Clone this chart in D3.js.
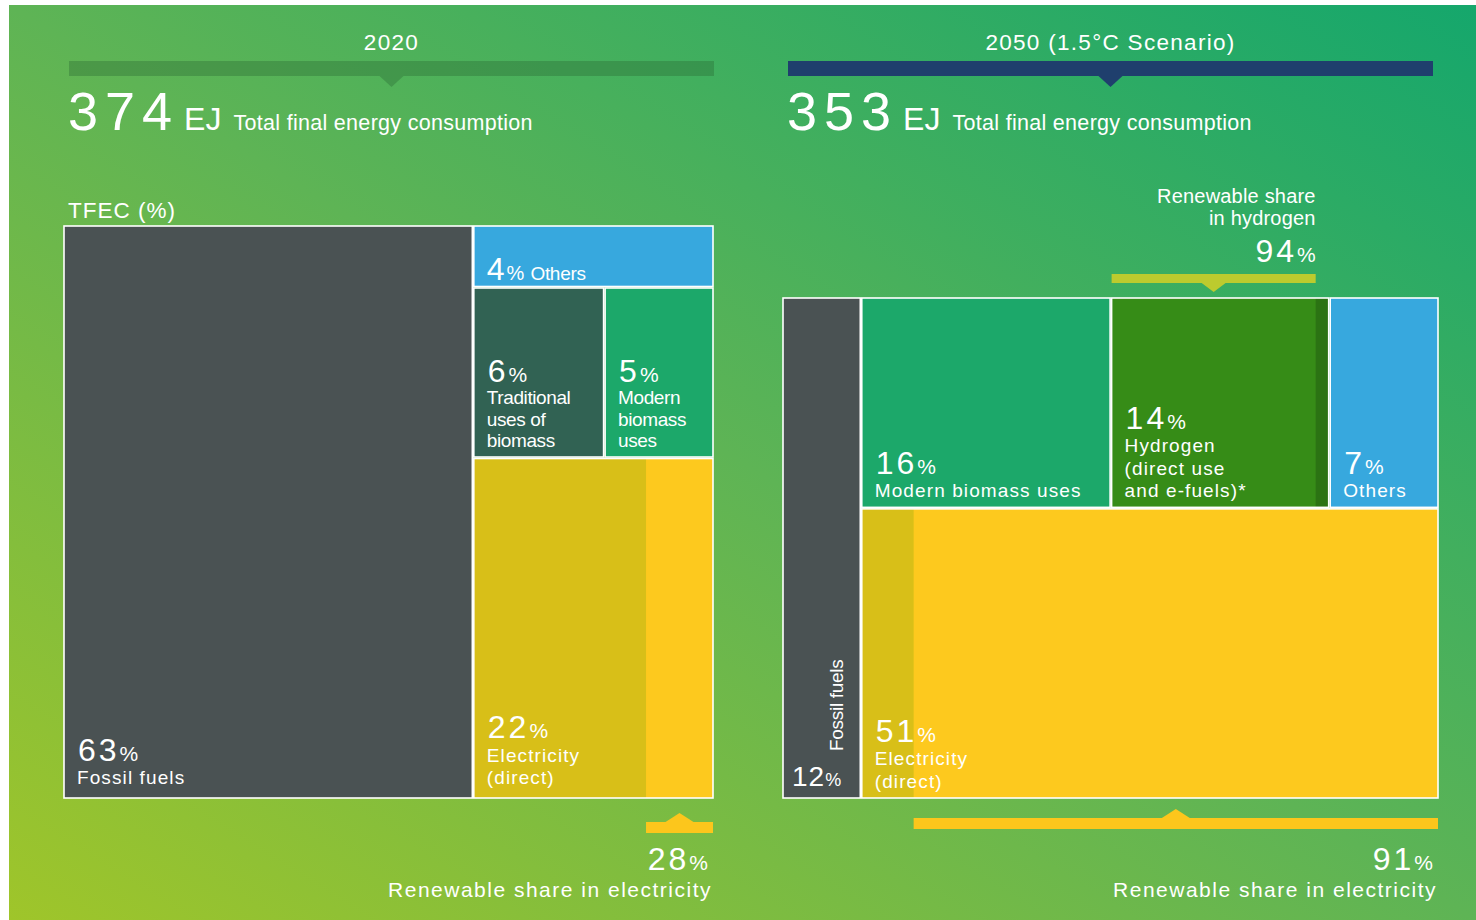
<!DOCTYPE html>
<html><head><meta charset="utf-8">
<script src="https://cdn.jsdelivr.net/npm/d3@7"></script>
<style>
html,body{margin:0;padding:0;background:#fff;}
svg{display:block;}
text{font-family:"Liberation Sans",Arial,Helvetica,sans-serif;fill:#fff;}
</style></head><body>
<svg id="chart" width="1476" height="920"></svg>
<script>
// ---------------- DATA ----------------
const panelTitles = ["2020", "2050 (1.5°C Scenario)"];
const totalsEJ = [374, 353];
const subtitle = "Total final energy consumption";
const cats2020 = ["Fossil fuels", "Others", "Traditional uses of biomass", "Modern biomass uses", "Electricity (direct)"];
const shares2020 = [63, 4, 6, 5, 22];
const cats2050 = ["Fossil fuels", "Modern biomass uses", "Hydrogen (direct use and e-fuels)*", "Others", "Electricity (direct)"];
const shares2050 = [12, 16, 14, 7, 51];
const renewableElectricity = [28, 91];   // % renewable share in electricity, 2020 / 2050
const renewableHydrogen = 94;            // % renewable share in hydrogen, 2050
const labelLines2020 = [["Fossil fuels"], ["Others"], ["Traditional", "uses of", "biomass"], ["Modern", "biomass", "uses"], ["Electricity", "(direct)"]];
const labelLines2050 = [["Fossil fuels"], ["Modern biomass uses"], ["Hydrogen", "(direct use", "and e-fuels)*"], ["Others"], ["Electricity", "(direct)"]];

// ---------------- STYLE ----------------
const colors = {
  "Fossil fuels": "#4a5253",
  "Others": "#37a8de",
  "Traditional uses of biomass": "#316253",
  "Modern biomass uses": "#1ca86a",
  "Electricity (direct)": "#fdc91e",
  "Hydrogen (direct use and e-fuels)*": "#368c17"
};
const elecDark = "#d8bf18";
const h2Dark = "#2b7313";

const svg = d3.select("#chart");
const defs = svg.append("defs");
const g = defs.append("linearGradient").attr("id", "bg")
  .attr("x1", 0).attr("y1", 1).attr("x2", 1).attr("y2", 0);
g.append("stop").attr("offset", 0).attr("stop-color", "#9fc52a");
g.append("stop").attr("offset", 0.5).attr("stop-color", "#5eb455");
g.append("stop").attr("offset", 1).attr("stop-color", "#15a76c");
svg.append("rect").attr("x", 9).attr("y", 5).attr("width", 1467).attr("height", 915).attr("fill", "url(#bg)");

// panel geometry
const panels = [
  {bar: [69, 714], barColor: "rgba(40,100,50,0.35)", box: [64, 226, 713, 798]},
  {bar: [788, 1433], barColor: "#1f3f6d", box: [783, 298, 1438, 798]}
];

// ---------------- HEADERS ----------------
panels.forEach((p, i) => {
  const xs = d3.scaleLinear().domain([0, 1]).range(p.bar);
  const mid = xs(0.5);
  svg.append("text").attr("x", mid).attr("y", 50)
    .attr("text-anchor", "middle").attr("font-size", 22.5).attr("letter-spacing", 1.3).text(panelTitles[i]);
  svg.append("rect").attr("x", xs(0)).attr("y", 61).attr("width", xs(1) - xs(0)).attr("height", 15)
    .attr("fill", p.barColor);
  svg.append("path").attr("d", `M${mid - 12},76 L${mid + 12},76 L${mid},87 Z`).attr("fill", p.barColor);
  const t = svg.append("text").attr("x", xs(0) - 1).attr("y", 130);
  t.append("tspan").attr("font-size", 54).attr("letter-spacing", 7).text(totalsEJ[i]);
  t.append("tspan").attr("dx", 5).attr("font-size", 32).text("EJ");
  t.append("tspan").attr("dx", 12).attr("font-size", 21.5).attr("letter-spacing", 0.3).text(subtitle);
});
svg.append("text").attr("x", 68).attr("y", 218).attr("font-size", 22.5).attr("letter-spacing", 1).text("TFEC (%)");

// ---------------- TREEMAPS ----------------
function buildTree(year) {
  if (year === 0) {
    const leaf = k => ({name: cats2020[k], value: shares2020[k], lines: labelLines2020[k]});
    return {children: [leaf(0), {children: [leaf(1), {children: [leaf(2), leaf(3)]}, leaf(4)]}]};
  }
  const leaf = k => ({name: cats2050[k], value: shares2050[k], lines: labelLines2050[k]});
  return {children: [leaf(0), {children: [{children: [leaf(1), leaf(2), leaf(3)]}, leaf(4)]}]};
}

function drawPercent(sel, x, y, value, big, small, ls) {
  const t = sel.append("text").attr("x", x).attr("y", y);
  t.append("tspan").attr("font-size", big).attr("letter-spacing", ls).text(value);
  t.append("tspan").attr("font-size", small).attr("letter-spacing", 0).text("%");
  return t;
}

panels.forEach((p, i) => {
  const [bx0, by0, bx1, by1] = p.box;
  const root = d3.hierarchy(buildTree(i)).sum(d => d.children ? 0 : d.value);
  d3.treemap().size([bx1 - bx0, by1 - by0]).tile(d3.treemapSliceDice).paddingInner(1.5)(root);
  const gg = svg.append("g").attr("transform", `translate(${bx0},${by0})`);
  root.leaves().forEach(leaf => {
    const d = leaf.data;
    const w = leaf.x1 - leaf.x0, h = leaf.y1 - leaf.y0;
    const cell = gg.append("g").attr("transform", `translate(${leaf.x0},${leaf.y0})`);
    cell.append("rect").attr("width", w).attr("height", h).attr("fill", colors[d.name]);
    if (d.name === "Electricity (direct)") {
      const sx = d3.scaleLinear().domain([0, 100]).range([0, w]);
      cell.append("rect").attr("width", sx(100 - renewableElectricity[i])).attr("height", h).attr("fill", elecDark);
      // bracket for renewable share below the box
      const rx0 = bx0 + leaf.x0 + sx(100 - renewableElectricity[i]), rx1 = bx0 + leaf.x1;
      const by = by1 + (i === 0 ? 24 : 20);
      const cx = (rx0 + rx1) / 2;
      svg.append("rect").attr("x", rx0).attr("y", by).attr("width", rx1 - rx0).attr("height", 11).attr("fill", "#fcc61c");
      svg.append("path").attr("d", `M${cx - 14},${by} L${cx + 14},${by} L${cx},${by - 9} Z`).attr("fill", "#fcc61c");
      drawPercent(svg, rx1 - 5, 870, renewableElectricity[i], 32, 21, 3).attr("text-anchor", "end");
      svg.append("text").attr("x", rx1 - 1).attr("y", 897).attr("text-anchor", "end")
        .attr("font-size", 21).attr("letter-spacing", 1.5).text("Renewable share in electricity");
    }
    if (d.name === "Hydrogen (direct use and e-fuels)*") {
      const sx = d3.scaleLinear().domain([0, 100]).range([0, w]);
      cell.append("rect").attr("x", sx(renewableHydrogen)).attr("width", w - sx(renewableHydrogen)).attr("height", h).attr("fill", h2Dark);
      const rx0 = bx0 + leaf.x0, rx1 = bx0 + leaf.x0 + sx(renewableHydrogen);
      const cx = (rx0 + rx1) / 2;
      const hy = by0 - 24;
      svg.append("rect").attr("x", rx0).attr("y", hy).attr("width", rx1 - rx0).attr("height", 9).attr("fill", "#bccb2e");
      svg.append("path").attr("d", `M${cx - 12},${hy + 9} L${cx + 12},${hy + 9} L${cx},${hy + 18} Z`).attr("fill", "#bccb2e");
      svg.append("text").attr("x", rx1).attr("y", 203).attr("text-anchor", "end").attr("font-size", 20).attr("letter-spacing", 0.2).text("Renewable share");
      svg.append("text").attr("x", rx1).attr("y", 225).attr("text-anchor", "end").attr("font-size", 20).attr("letter-spacing", 0.2).text("in hydrogen");
      drawPercent(svg, rx1, 262, renewableHydrogen, 32, 21, 3).attr("text-anchor", "end");
    }
    cell.append("rect").attr("width", w).attr("height", h).attr("fill", "none").attr("stroke", "#fff").attr("stroke-width", 1.6);

    // labels
    if (i === 1 && d.name === "Fossil fuels") {
      drawPercent(cell, 9, h - 12, d.value, 28, 18, 1);
      cell.append("text").attr("transform", `translate(${w - 17},${h - 47}) rotate(-90)`)
        .attr("font-size", 19).attr("letter-spacing", -0.3).text(d.lines[0]);
      return;
    }
    if (i === 0 && d.name === "Others") {
      const t = cell.append("text").attr("x", 13).attr("y", h - 7);
      t.append("tspan").attr("font-size", 32).attr("letter-spacing", 2).text(d.value);
      t.append("tspan").attr("font-size", 20).text("%");
      t.append("tspan").attr("font-size", 19).attr("dx", 6).attr("letter-spacing", -0.3).text(d.lines[0]);
      return;
    }
    const big = h > 300;
    const tight = i === 0 && !big && d.name !== "Fossil fuels";
    const lh = tight ? 21.5 : 22.5;
    const bottomPad = big ? 14 : 10;
    const lx = 13;
    d.lines.slice().reverse().forEach((ln, k) => {
      cell.append("text").attr("x", lx).attr("y", h - bottomPad - k * lh)
        .attr("font-size", 19).attr("letter-spacing", tight ? -0.4 : 1.1).text(ln);
    });
    drawPercent(cell, lx + 1, h - bottomPad - d.lines.length * lh - 1, d.value, 32, 21, 3);
  });
});
</script>
</body></html>
